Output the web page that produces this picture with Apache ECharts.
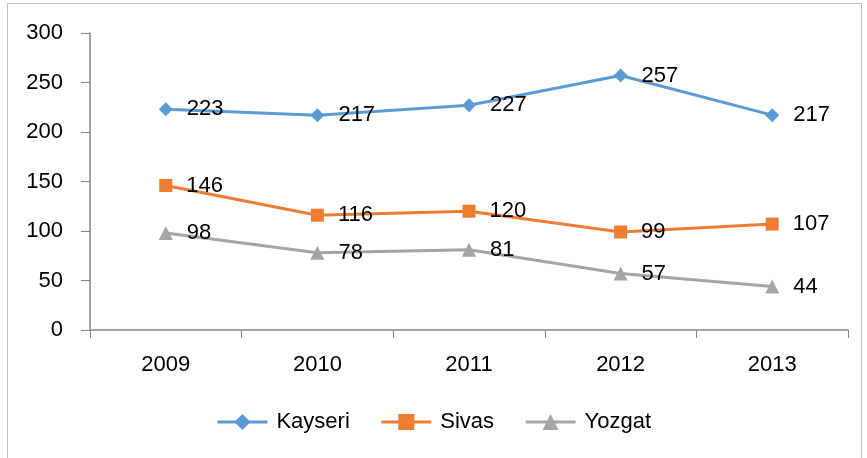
<!DOCTYPE html>
<html>
<head>
<meta charset="utf-8">
<title>ECharts</title>
<script src="https://cdn.jsdelivr.net/npm/echarts@6/dist/echarts.min.js"></script>
<style>
  html, body { margin: 0; padding: 0; background: #fff; }
</style>
</head>
<body>
<div id="main" style="width: 867px;height:458px;"></div>
<script type="text/javascript">
    var years = ['2009', '2010', '2011', '2012', '2013'];
    var kayseri = [223, 217, 227, 257, 217];
    var sivas = [146, 116, 120, 99, 107];
    var yozgat = [98, 78, 81, 57, 44];

    var font = '"Liberation Sans", Arial, sans-serif';
    var fs = 22;

    function line(name, data, color, symbol, size) {
        return {
            name: name,
            type: 'line',
            data: data,
            symbol: symbol,
            symbolSize: size,
            showAllSymbol: true,
            lineStyle: { color: color, width: 3 },
            itemStyle: { color: color },
            label: {
                show: true,
                position: 'right',
                distance: 14,
                color: '#000',
                fontSize: fs,
                fontFamily: font
            }
        };
    }

    var myChart = echarts.init(document.getElementById('main'));
    myChart.setOption({
        animation: false,
        graphic: [{
            type: 'rect',
            shape: { x: 7.5, y: 3.5, width: 854, height: 470 },
            style: { fill: 'none', stroke: '#bfbfbf', lineWidth: 1 },
            silent: true
        }],
        grid: { left: 90, right: 19, top: 33, bottom: 128 },
        legend: {
            bottom: 20,
            left: 'center',
            itemWidth: 50,
            itemHeight: 20,
            itemGap: 30,
            lineStyle: { width: 3 },
            textStyle: { color: '#000', fontSize: fs, fontFamily: font, padding: [0, 0, 0, 4] },
            data: ['Kayseri', 'Sivas', 'Yozgat']
        },
        xAxis: {
            type: 'category',
            data: years,
            boundaryGap: true,
            axisLine: { lineStyle: { color: '#868686', width: 1.5 } },
            axisTick: { show: true, length: 8, lineStyle: { color: '#868686' } },
            axisLabel: { color: '#000', fontSize: fs, fontFamily: font, margin: 24 },
            splitLine: { show: false }
        },
        yAxis: {
            type: 'value',
            min: 0,
            max: 300,
            interval: 50,
            axisLine: { show: true, lineStyle: { color: '#868686', width: 1.5 } },
            axisTick: { show: true, length: 9, lineStyle: { color: '#868686' } },
            axisLabel: { color: '#000', fontSize: fs, fontFamily: font, margin: 27 },
            splitLine: { show: false }
        },
        series: [
            line('Kayseri', kayseri, '#5B9BD5', 'diamond', 14),
            line('Sivas', sivas, '#ED7D31', 'rect', 13),
            line('Yozgat', yozgat, '#A5A5A5', 'triangle', 14)
        ]
    });
</script>
</body>
</html>
